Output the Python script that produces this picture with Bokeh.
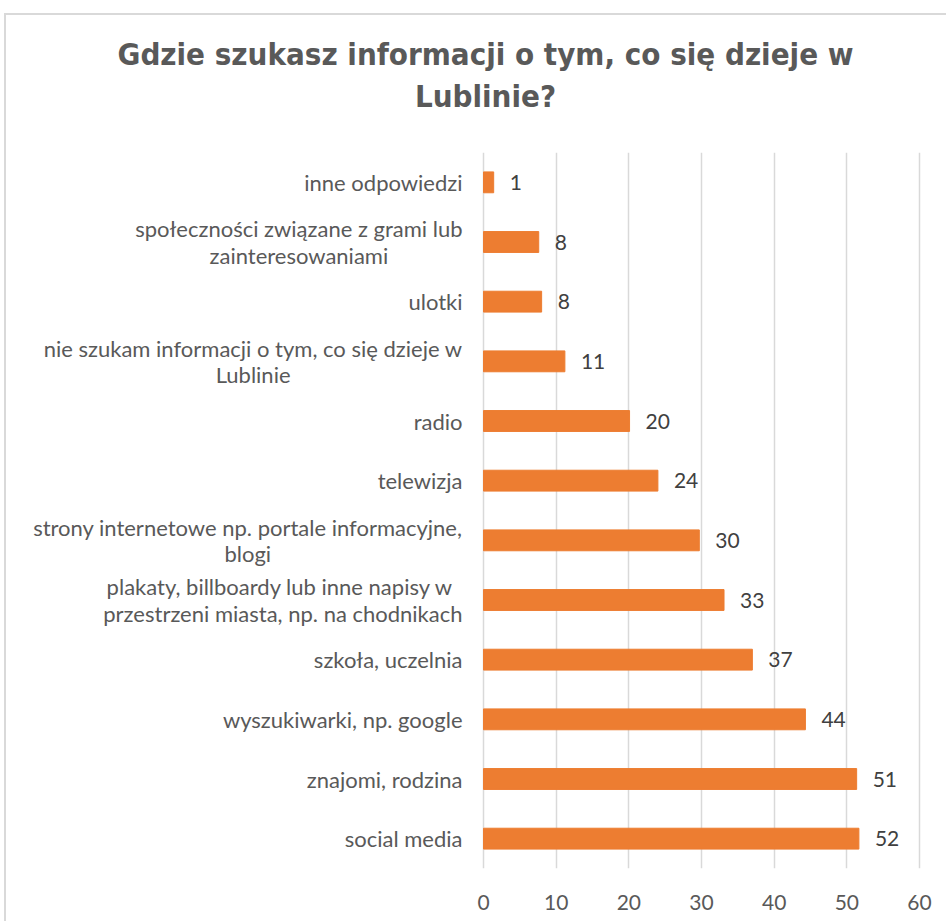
from bokeh.plotting import figure
from bokeh.models import ColumnDataSource, FixedTicker, Range1d
from bokeh.layouts import column
from bokeh.embed import file_html
from bokeh.resources import INLINE
from bokeh.core.properties import value

# top to bottom
categories = [
    "inne odpowiedzi",
    "społeczności związane z grami lub\nzainteresowaniami",
    "ulotki",
    "nie szukam informacji o tym, co się dzieje w\nLublinie",
    "radio",
    "telewizja",
    "strony internetowe np. portale informacyjne,\nblogi",
    "plakaty, billboardy lub inne napisy w \nprzestrzeni miasta, np. na chodnikach",
    "szkoła, uczelnia",
    "wyszukiwarki, np. google",
    "znajomi, rodzina",
    "social media",
]
values = [1.4, 7.6, 8.0, 11.2, 20.1, 24.0, 29.7, 33.1, 37.0, 44.3, 51.35, 51.66]
value_labels = ["1", "8", "8", "11", "20", "24", "30", "33", "37", "44", "51", "52"]
x_ticks = [0, 10, 20, 30, 40, 50, 60]
title_lines = ["Gdzie szukasz informacji o tym, co się dzieje w", "Lublinie?"]

TEXT = "#595959"
ORANGE = "#ED7D31"
FONT = "Lato"
TITLE_FONT = "'Liberation Sans Narrow', 'DejaVu Sans Condensed', 'Open Sans', sans-serif"

# layout (page pixels)
ORIGIN_X, ORIGIN_Y = 6, 15          # canvas origin after margin + border
W, H = 940, 906
AXIS0_PX, AXIS60_PX = 483, 919      # where 0 and 60 fall on the page
FRAME_TOP_PX, FRAME_BOTTOM_PX = 152, 868
TITLE_H = FRAME_TOP_PX - ORIGIN_Y
TITLE_CX = 485 - ORIGIN_X
TITLE_LINE_Y = [TITLE_H - (53 - ORIGIN_Y), TITLE_H - (95 - ORIGIN_Y)]
ppu = (AXIS60_PX - AXIS0_PX) / 60.0
x_start = (ORIGIN_X - AXIS0_PX) / ppu
x_end = (ORIGIN_X + W - AXIS0_PX) / ppu

# ---- title strip ----
tf = figure(width=W, height=TITLE_H, x_range=Range1d(0, W), y_range=Range1d(0, TITLE_H),
            output_backend="svg", toolbar_location=None,
            min_border=0, outline_line_color=None)
tf.axis.visible = False
tf.grid.visible = False
tf.text(x=[TITLE_CX] * 2, y=TITLE_LINE_Y, text=title_lines,
        text_align="center", text_baseline="middle",
        text_font=value(TITLE_FONT), text_font_style="bold",
        text_font_size="31px", text_color=TEXT)

# ---- chart ----
factors = list(reversed(categories))
src = ColumnDataSource(dict(cat=categories, val=values, lab=value_labels,
                            zero=[0] * len(categories)))

p = figure(
    y_range=factors, x_range=(x_start, x_end),
    width=W, height=H - TITLE_H,
    output_backend="svg", toolbar_location=None,
    min_border_left=0, min_border_right=0, min_border_top=0,
    min_border_bottom=ORIGIN_Y + H - FRAME_BOTTOM_PX,
)
p.outline_line_color = None
p.background_fill_color = "white"
p.border_fill_color = "white"

p.hbar(y="cat", left=0, right="val", height=0.35, source=src,
       fill_color=ORANGE, line_color=ORANGE)
p.text(x="val", y="cat", text="lab", source=src, x_offset=16,
       text_baseline="middle", text_align="left",
       text_font=value(FONT), text_font_size="21px", text_color="#404040")

# category labels: block right edge 21px left of zero, lines centred
p.text(x="zero", y="cat", text="cat", source=src, x_offset=-21,
       anchor="center_right", text_align="center", text_baseline="middle",
       text_font=value(FONT), text_font_size="22px", text_color=TEXT,
       text_line_height=0.98)

p.xaxis.ticker = FixedTicker(ticks=x_ticks)
p.xgrid.ticker = FixedTicker(ticks=x_ticks)
p.xgrid.grid_line_color = "#d9d9d9"
p.xgrid.grid_line_width = 1.5
p.ygrid.grid_line_color = None

ax = p.xaxis[0]
ax.axis_line_color = None
ax.major_tick_line_color = None
ax.minor_tick_line_color = None
ax.major_label_text_font = FONT
ax.major_label_text_color = TEXT
ax.major_label_text_font_size = "21px"
ax.major_label_standoff = 20
p.yaxis.visible = False

layout = column(tf, p, spacing=0)
layout.styles = {"border-left": "2px solid #d9d9d9", "border-top": "2px solid #d9d9d9",
                 "margin-left": "4px", "margin-top": "13px"}

open("out.html", "w").write(file_html(layout, INLINE))
